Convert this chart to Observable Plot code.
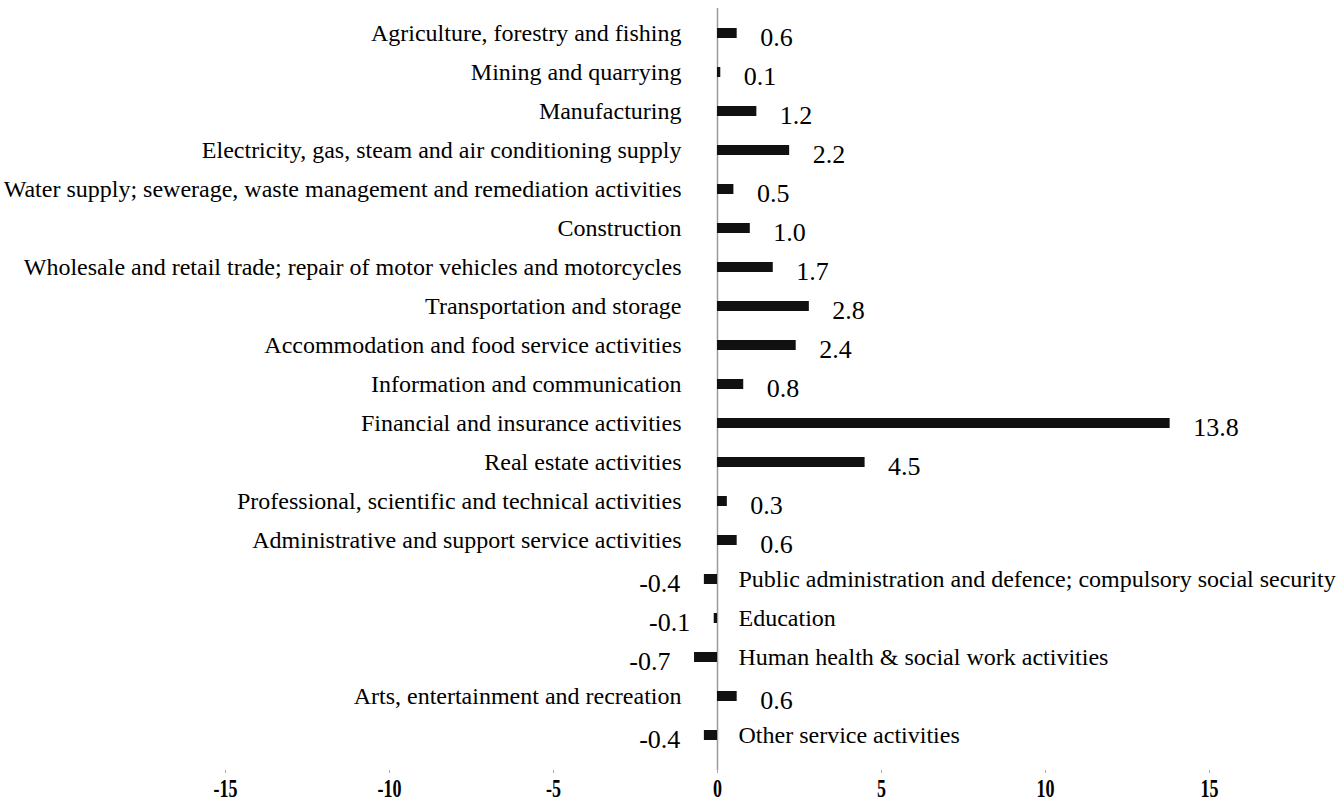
<!DOCTYPE html>
<html>
<head>
<meta charset="utf-8">
<script src="https://cdn.jsdelivr.net/npm/d3@7"></script>
<script src="https://cdn.jsdelivr.net/npm/@observablehq/plot@0.6"></script>
<style>
  html, body { margin: 0; padding: 0; background: #fff; }
  #chart svg { display: block; font-family: "Liberation Serif", "Times New Roman", serif; }
</style>
</head>
<body>
<div id="chart"></div>
<script>
const categories = [
  "Agriculture, forestry and fishing",
  "Mining and quarrying",
  "Manufacturing",
  "Electricity, gas, steam and air conditioning supply",
  "Water supply; sewerage, waste management and remediation activities",
  "Construction",
  "Wholesale and retail trade; repair of motor vehicles and motorcycles",
  "Transportation and storage",
  "Accommodation and food service activities",
  "Information and communication",
  "Financial and insurance activities",
  "Real estate activities",
  "Professional, scientific and technical activities",
  "Administrative and support service activities",
  "Public administration and defence; compulsory social security",
  "Education",
  "Human health & social work activities",
  "Arts, entertainment and recreation",
  "Other service activities"
];
const values = [0.6, 0.1, 1.2, 2.2, 0.5, 1.0, 1.7, 2.8, 2.4, 0.8, 13.8, 4.5, 0.3, 0.6, -0.4, -0.1, -0.7, 0.6, -0.4];
const xTicks = [-15, -10, -5, 0, 5, 10, 15];

const data = categories.map((c, i) => ({category: c, value: values[i]}));
const pos = data.filter(d => d.value >= 0);
const neg = data.filter(d => d.value < 0);

const chart = Plot.plot({
  width: 1343,
  height: 805,
  marginLeft: 225,
  marginRight: 134,
  marginTop: 8,
  marginBottom: 35,
  x: {domain: [-15, 15], ticks: xTicks, tickFormat: d => String(d), label: null},
  y: {domain: categories, axis: null, paddingInner: 0.75, paddingOuter: 0.466, align: 0.405},
  marks: [
    Plot.ruleX([0], {stroke: "#9a9a9a", strokeWidth: 1.5}),
    Plot.barX(data, {x: "value", y: "category", fill: "#111"}),
    Plot.text(pos, {x: 0, y: "category", text: "category", textAnchor: "end", dx: -36, fontSize: 24, fill: "#000"}),
    Plot.text(neg, {x: 0, y: "category", text: "category", textAnchor: "start", dx: 21, fontSize: 24, fill: "#000"}),
    Plot.text(pos, {x: "value", y: "category", text: d => d.value.toFixed(1), textAnchor: "start", dx: 23, dy: 4, fontSize: 26, fill: "#000"}),
    Plot.text(neg, {x: "value", y: "category", text: d => d.value.toFixed(1), textAnchor: "end", dx: -24, dy: 4, fontSize: 26, fill: "#000"}),
    Plot.axisX({ticks: xTicks, tickFormat: d => String(d), tickSize: 3, tickPadding: 6, stroke: "#aaa", fontSize: 25, fontWeight: "bold", fill: "#000", label: null})
  ]
});
document.getElementById("chart").appendChild(chart);

// horizontally condense the bold tick labels
for (const t of chart.querySelectorAll('g[aria-label="x-axis tick label"] text')) {
  const tr = t.getAttribute("transform") || "";
  const x = t.getAttribute("x"), y = t.getAttribute("y");
  if (x != null) {
    t.setAttribute("transform", `${tr} translate(${x},${y || 0}) scale(0.72,1)`);
    t.removeAttribute("x"); t.removeAttribute("y");
  } else {
    t.setAttribute("transform", `${tr} scale(0.72,1)`);
  }
}
</script>
</body>
</html>
